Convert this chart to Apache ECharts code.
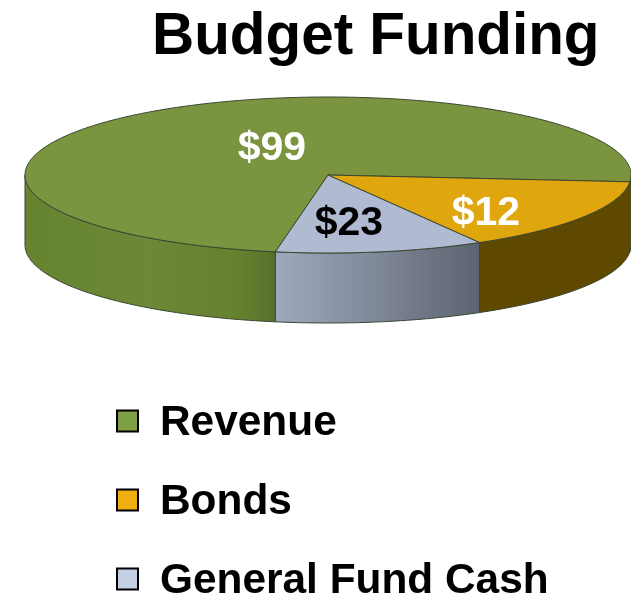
<!DOCTYPE html>
<html>
<head>
<meta charset="utf-8">
<style>html,body{margin:0;padding:0;background:#fff}#c{width:631px;height:597px}</style>
<script src="https://cdn.jsdelivr.net/npm/echarts@6/dist/echarts.min.js"></script>
</head>
<body>
<div id="c"></div>
<script>
// Chart content
const chartTitle = 'Budget Funding';
const categories = ['Revenue', 'Bonds', 'General Fund Cash'];
const amounts = [99, 12, 23];
// Slice sweep in degrees, as pictured (the drawn wedges are not proportional to the printed amounts)
const sweepDegrees = [265, 55, 40];

// Appearance
const sliceStarts = [100, 5, 60];
const topColors = ['#7a9440', '#e0a60d', '#b0bbd1'];
const legendColors = ['#7f9f47', '#f0b010', '#c2d0e2'];
const labelColors = ['#fff', '#fff', '#000'];
const sideFills = [
  [[0, '#66842f'], [0.5, '#6c8838'], [0.85, '#66822f'], [1, '#56702a']],
  [[0, '#5f4800'], [1, '#5f4800']],
  [[0, '#9ea9bc'], [0.45, '#828b9c'], [1, '#5c6370']]
];
const labelAnchors = [[-0.185, -0.372], [0.521, 0.46], [0.069, 0.59]];

const W = 631, H = 597;
const cx = 328, cy = 175, rx = 303, ry = 78, depth = 70;
const labelNudge = 3;
const rad = d => d * Math.PI / 180;
const pt = (deg, dy) => [cx + rx * Math.cos(rad(deg)), cy + ry * Math.sin(rad(deg)) + (dy || 0)];
function arc(a, b, dy) {
  const n = Math.max(2, Math.ceil(Math.abs(b - a)));
  const out = [];
  for (let i = 0; i <= n; i++) out.push(pt(a + (b - a) * i / n, dy));
  return out;
}
const edge = '#3b4630';

function renderSlice(i) {
  return function () {
    const start = sliceStarts[i], end = start + sweepDegrees[i];
    const children = [];
    // visible rim parts lie between 0 and 180 degrees
    const ranges = [[Math.max(start, 0), Math.min(end, 180)]];
    if (end > 360) ranges.push([0, end - 360]);
    ranges.forEach(r => {
      if (r[1] <= r[0]) return;
      const top = arc(r[0], r[1], 0);
      const bottom = arc(r[1], r[0], depth);
      children.push({
        type: 'polygon',
        shape: { points: top.concat(bottom) },
        style: {
          fill: {
            type: 'linear', x: 0, y: 0, x2: 1, y2: 0,
            colorStops: sideFills[i].map(s => ({ offset: s[0], color: s[1] }))
          },
          stroke: edge, lineWidth: 1
        }
      });
    });
    children.push({
      type: 'polygon',
      shape: { points: [[cx, cy]].concat(arc(start, end, 0)) },
      style: { fill: topColors[i], stroke: edge, lineWidth: 1 }
    });
    children.push({
      type: 'text',
      z2: 10,
      style: {
        x: cx + rx * labelAnchors[i][0],
        y: cy + ry * labelAnchors[i][1] + labelNudge,
        text: '$' + amounts[i],
        fill: labelColors[i],
        font: 'bold 41px "Liberation Sans", Arial, sans-serif',
        align: 'center',
        verticalAlign: 'middle'
      }
    });
    return { type: 'group', children: children };
  };
}

const chart = echarts.init(document.getElementById('c'), null, { renderer: 'canvas', width: W, height: H });
const legendFont = {
  fontFamily: '"Liberation Sans", Arial, sans-serif',
  fontWeight: 'bold',
  fontSize: 42.4,
  color: '#000'
};
chart.setOption({
  animation: false,
  backgroundColor: '#fff',
  title: {
    text: chartTitle,
    left: 152,
    top: 9,
    padding: 0,
    textStyle: { fontFamily: '"Liberation Sans", Arial, sans-serif', fontWeight: 'bold', fontSize: 58.4, color: '#000' }
  },
  legend: {
    orient: 'vertical',
    left: 116,
    top: 397,
    height: 320,
    width: 515,
    padding: 0,
    itemWidth: 21,
    itemHeight: 21,
    itemGap: 31,
    icon: 'rect',
    selectedMode: false,
    data: categories,
    itemStyle: { borderColor: '#000', borderWidth: 2 },
    formatter: name => '{n|' + name + '}',
    textStyle: {
      ...legendFont,
      padding: [0, 0, 0, 17],
      rich: {
        n: { ...legendFont, height: 43, padding: [5, 0, 0, 0], lineHeight: 43 }
      }
    }
  },
  series: categories.map((name, i) => ({
    type: 'custom',
    name: name,
    coordinateSystem: 'none',
    silent: true,
    itemStyle: { color: legendColors[i] },
    data: [amounts[i]],
    renderItem: renderSlice(i)
  }))
});
</script>
</body>
</html>
